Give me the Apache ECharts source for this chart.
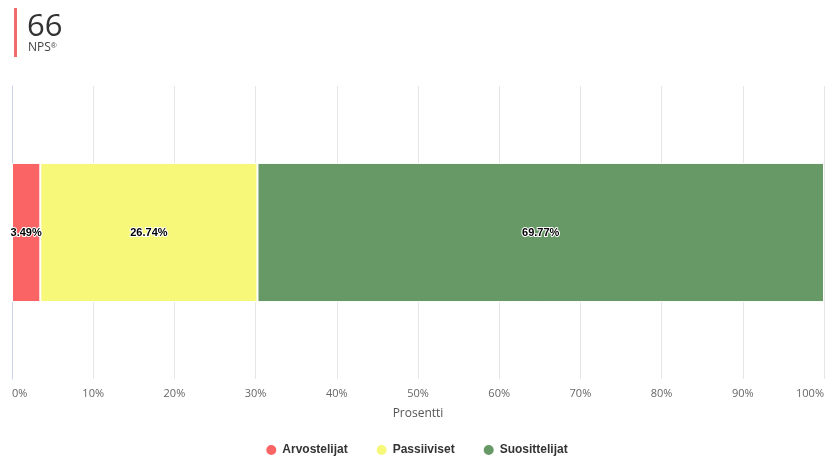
<!DOCTYPE html>
<html><head><meta charset="utf-8">
<script src="https://cdn.jsdelivr.net/npm/echarts@6/dist/echarts.min.js"></script>
<style>html,body{margin:0;padding:0;background:#fff}#c{width:832px;height:464px}</style>
</head><body><div id="c"></div>
<script>
const categories = ['NPS'];
const seriesNames = ['Arvostelijat', 'Passiiviset', 'Suosittelijat'];
const arvostelijat = [3.49];
const passiiviset = [26.74];
const suosittelijat = [69.77];
const npsScore = '66';
const axisTitle = 'Prosentti';
const colors = ['#fa6464', '#f7f779', '#669966'];

const chart = echarts.init(document.getElementById('c'));
const values = [arvostelijat, passiiviset, suosittelijat];
chart.setOption({
  animation: false,
  color: colors,
  textStyle: { fontFamily: 'DejaVu Sans' },
  graphic: [
    { type: 'rect', shape: { x: 14, y: 8, width: 3, height: 49 }, style: { fill: '#f06b6b' } },
    { type: 'text', left: 27, top: 12, style: { text: npsScore, font: '400 31px "Open Sans"', fill: '#333' } },
    { type: 'text', left: 28, top: 42, style: { text: 'NPS{s|®}', rich: { s: { fontSize: 8, verticalAlign: 'top', fill: '#444', padding: [0,0,4,0] } }, font: '12px "Open Sans"', fill: '#444' } }
  ],
  grid: { left: 12, right: 8, top: 86, bottom: 85 },
  xAxis: {
    type: 'value', min: 0, max: 100, interval: 10,
    name: axisTitle, nameLocation: 'middle', nameGap: 29,
    nameTextStyle: { color: '#555', fontSize: 12, fontFamily: 'Open Sans' },
    axisLine: { show: false }, axisTick: { show: false },
    axisLabel: { formatter: '{value}%', color: '#666', fontSize: 11, margin: 9, fontFamily: 'Open Sans',
      alignMinLabel: 'left', alignMaxLabel: 'right' },
    splitLine: { lineStyle: { color: '#e6e6e6' } }
  },
  yAxis: {
    type: 'category', data: categories,
    axisLine: { show: true, lineStyle: { color: '#ccd6eb' } },
    axisTick: { show: false }, axisLabel: { show: false }
  },
  legend: {
    bottom: 2, left: 'center', icon: 'circle', itemWidth: 12, itemHeight: 12, itemGap: 27,
    textStyle: { color: '#333', fontSize: 12, fontWeight: 'bold', fontFamily: 'Liberation Sans' },
    data: seriesNames
  },
  series: seriesNames.map((n, i) => ({
    name: n, type: 'bar', stack: 'all', data: values[i], barWidth: '47.5%',
    itemStyle: { borderColor: '#fff', borderWidth: 1 },
    label: { show: true, position: 'inside', formatter: p => p.value.toFixed(2) + '%',
      color: '#000', fontSize: 11, fontWeight: 'bold', fontFamily: 'Liberation Sans',
      textBorderColor: '#fff', textBorderWidth: 2 }
  }))
});
</script></body></html>
